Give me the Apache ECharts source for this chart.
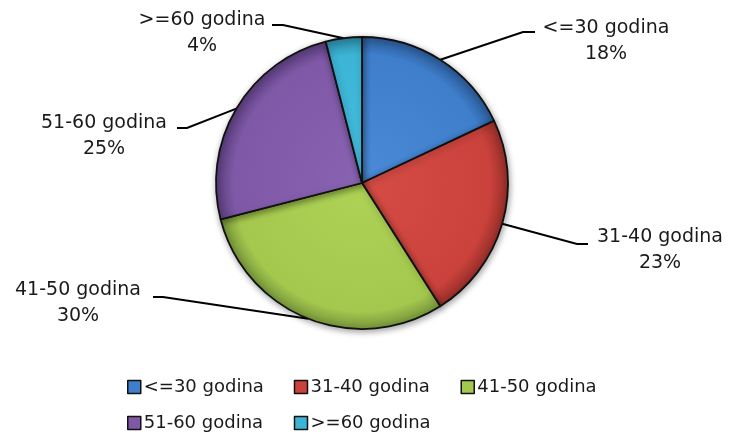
<!DOCTYPE html>
<html>
<head>
<meta charset="utf-8">
<script src="https://cdn.jsdelivr.net/npm/echarts@6/dist/echarts.min.js"></script>
<style>
  html, body { margin: 0; padding: 0; background: #fff; }
  #chart { width: 732px; height: 434px; }
</style>
</head>
<body>
<div id="chart"></div>
<script>
// ---- data ----
const categories = ['<=30 godina', '31-40 godina', '41-50 godina', '51-60 godina', '>=60 godina'];
const shares = [18, 23, 30, 25, 4];

// ---- styling ----
const baseColors = ['#3e7ecb', '#cb423c', '#a4c84e', '#7f59a7', '#3cb4d6'];
const lightColors = ['#4a8ad6', '#d44c45', '#add255', '#8963b2', '#45bde0'];
const darkColors = ['#2b5a96', '#952d29', '#76953a', '#5a3d7c', '#2a86a2'];
const CX = 362, CY = 183, R = 146;

// label placement (text block centre x, first line top y, elbow, end)
const labelPlace = [
  { cx: 606, top: 15, elbow: [523, 32], end: [535, 32] },
  { cx: 660, top: 224, elbow: [577, 244], end: [588, 244] },
  { cx: 78, top: 277, elbow: [163, 297], end: [153, 297] },
  { cx: 104, top: 110, elbow: [187, 128], end: [177, 128] },
  { cx: 202, top: 7, elbow: [283, 25], end: [272, 25] }
];

function fillFor(i) {
  return {
    type: 'radial', x: CX, y: CY, r: R, global: true,
    colorStops: [
      { offset: 0, color: lightColors[i] },
      { offset: 0.88, color: baseColors[i] },
      { offset: 1, color: darkColors[i] }
    ]
  };
}

const total = shares.reduce((a, b) => a + b, 0);
function startPoint(i) {
  let cum = 0;
  for (let k = 0; k < i; k++) cum += shares[k];
  const mid = (cum + shares[i] / 2) / total * Math.PI * 2;
  return [CX + R * Math.sin(mid), CY - R * Math.cos(mid)];
}

const chart = echarts.init(document.getElementById('chart'), null, { renderer: 'canvas' });
chart.setOption({
  animation: false,
  backgroundColor: '#ffffff',
  legend: {
    left: 122,
    top: 369,
    width: 560,
    itemWidth: 13,
    itemHeight: 13,
    itemGap: 10,
    icon: 'rect',
    selectedMode: false,
    itemStyle: { borderColor: '#111', borderWidth: 1.5 },
    textStyle: {
      fontFamily: 'DejaVu Sans',
      fontSize: 18,
      color: '#1a1a1a',
      width: 140,
      lineHeight: 26,
      padding: [0, 0, 0, -2]
    },
    data: categories.map((name, i) => ({
      name: name,
      itemStyle: { color: baseColors[i], borderColor: '#111', borderWidth: 1.5 }
    }))
  },
  series: [{
    type: 'pie',
    center: [CX, CY],
    radius: R,
    startAngle: 90,
    clockwise: true,
    itemStyle: {
      borderColor: '#111',
      borderWidth: 1.8,
      shadowBlur: 6,
      shadowColor: 'rgba(0,0,0,0.35)',
      shadowOffsetX: 1,
      shadowOffsetY: 2
    },
    label: {
      show: true,
      position: 'outside',
      formatter: '{b}\n{d}%',
      fontFamily: 'DejaVu Sans',
      fontSize: 19,
      lineHeight: 26,
      color: '#1a1a1a',
      align: 'center'
    },
    labelLine: {
      show: true,
      lineStyle: { color: '#000', width: 2 }
    },
    labelLayout: function (params) {
      const i = params.dataIndex;
      const p = labelPlace[i];
      return {
        x: p.cx,
        y: p.top,
        align: 'center',
        verticalAlign: 'top',
        labelLinePoints: [startPoint(i), p.elbow, p.end]
      };
    },
    emphasis: { disabled: true },
    data: categories.map((name, i) => ({
      name: name,
      value: shares[i],
      itemStyle: { color: fillFor(i) }
    }))
  }],
  color: baseColors
});
</script>
</body>
</html>
